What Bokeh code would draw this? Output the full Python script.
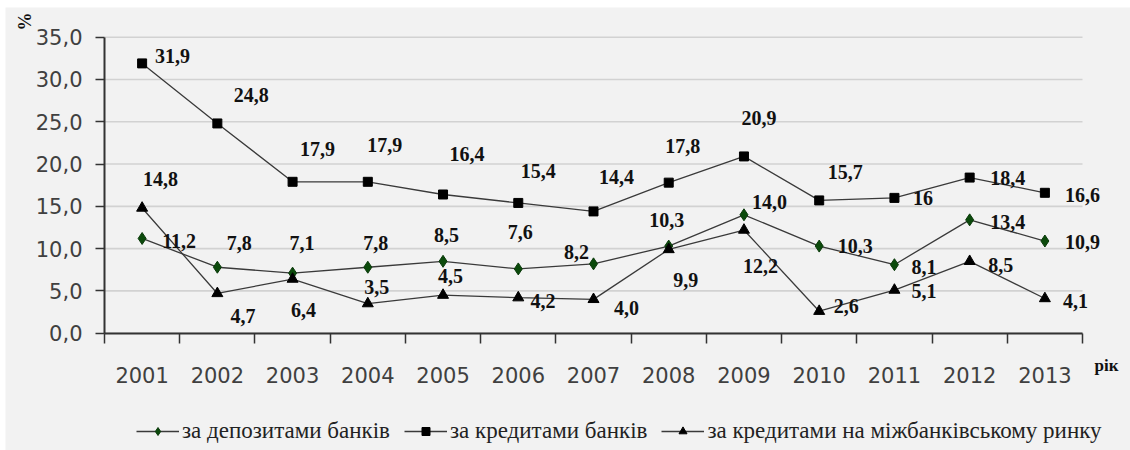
import math
from bokeh.plotting import figure
from bokeh.models import (ColumnDataSource, Range1d, FixedTicker, LabelSet, Label,
                          Legend, LegendItem, LinearAxis)
from bokeh.embed import file_html
from bokeh.resources import INLINE

# ---------------- data ----------------
years = ["2001", "2002", "2003", "2004", "2005", "2006", "2007",
         "2008", "2009", "2010", "2011", "2012", "2013"]
deposits = [11.2, 7.8, 7.1, 7.8, 8.5, 7.6, 8.2, 10.3, 14.0, 10.3, 8.1, 13.4, 10.9]
credits = [31.9, 24.8, 17.9, 17.9, 16.4, 15.4, 14.4, 17.8, 20.9, 15.7, 16.0, 18.4, 16.6]
interbank = [14.8, 4.7, 6.4, 3.5, 4.5, 4.2, 4.0, 9.9, 12.2, 2.6, 5.1, 8.5, 4.1]

deposits_labels = ["11,2", "7,8", "7,1", "7,8", "8,5", "7,6", "8,2", "10,3", "14,0", "10,3", "8,1", "13,4", "10,9"]
credits_labels = ["31,9", "24,8", "17,9", "17,9", "16,4", "15,4", "14,4", "17,8", "20,9", "15,7", "16", "18,4", "16,6"]
interbank_labels = ["14,8", "4,7", "6,4", "3,5", "4,5", "4,2", "4,0", "9,9", "12,2", "2,6", "5,1", "8,5", "4,1"]

series_names = ["за депозитами банків", "за кредитами банків",
                "за кредитами на міжбанківському ринку"]
y_ticks = [0, 5, 10, 15, 20, 25, 30, 35]
y_axis_title = "%"
x_axis_title = "рік"

# ---------------- label placement (pixels, style only) ----------------
dep_dx = [37, 22, 9.5, 8, 3.5, 2, -17, -2, 25.5, 36, 29.5, 38, 37.6]
dep_dy = [-2.5, 24, 30, 24, 26, 37, 12, 25.6, 13, 0, -2, -2, -1]
cre_dx = [30.4, 34, 25, 17, 24, 20, 23, 14, 15, 26, 28.5, 38, 37.6]
cre_dy = [7.9, 28, 33, 37, 40, 32, 34, 37, 38, 28.5, 0, 0, -2]
int_dx = [18.5, 25.7, 11, 9, 7.5, 24.7, 33, 17, 16.5, 27, 29.5, 31, 30.6]
int_dy = [29, -22.5, -31, 16.6, 19, -3, -8.6, -31, -35.5, 5, -1, -3.7, -2]

BG = "#f2f2f2"
LINE = "#3a3a3a"
TICK_FONT = "'DejaVu Sans'"
SERIF = "'Liberation Serif'"

n = len(years)
xs = [i + 0.5 for i in range(n)]

# the frame covers (almost) the whole canvas; axes are pinned at 0 so nothing is clipped
p = figure(width=1130, height=450, output_backend="svg", toolbar_location=None,
           x_range=Range1d(-1.316, 13.638), y_range=Range1d(-13.87, 38.51),
           x_axis_type=None, y_axis_type=None, min_border=0)
p.min_border_left = 5
p.min_border_top = 7
p.min_border_right = 0
p.min_border_bottom = 0
p.background_fill_color = BG
p.border_fill_color = "#ffffff"
p.outline_line_color = None

# horizontal grid lines across the category span
p.segment(x0=[0] * len(y_ticks), x1=[n] * len(y_ticks), y0=y_ticks, y1=y_ticks,
          line_color="#d2d2d2", line_width=1.6)

xaxis = LinearAxis(fixed_location=0, bounds=(0, n),
                   ticker=FixedTicker(ticks=xs, minor_ticks=list(range(n + 1))))
xaxis.major_label_overrides = {x: y for x, y in zip(xs, years)}
xaxis.major_tick_out = 0
xaxis.major_tick_in = 0
xaxis.minor_tick_out = 10
xaxis.minor_tick_in = 0
xaxis.minor_tick_line_color = "#333333"
xaxis.minor_tick_line_width = 1.5
xaxis.major_label_standoff = 24
xaxis.major_label_text_font = TICK_FONT
xaxis.major_label_text_font_size = "21px"
xaxis.major_label_text_color = "#404040"
xaxis.axis_line_color = "#333333"
xaxis.axis_line_width = 2
p.add_layout(xaxis, "below")

yaxis = LinearAxis(fixed_location=0, bounds=(0, 35),
                   ticker=FixedTicker(ticks=y_ticks, minor_ticks=[]))
yaxis.major_label_overrides = {t: f"{t:.1f}".replace(".", ",") for t in y_ticks}
yaxis.major_tick_out = 9
yaxis.major_tick_in = 0
yaxis.major_tick_line_color = "#333333"
yaxis.major_tick_line_width = 1.5
yaxis.major_label_standoff = 13
yaxis.major_label_text_font = TICK_FONT
yaxis.major_label_text_font_size = "21px"
yaxis.major_label_text_color = "#404040"
yaxis.axis_line_color = "#333333"
yaxis.axis_line_width = 2
p.add_layout(yaxis, "left")

specs = [
    (deposits, deposits_labels, dep_dx, dep_dy, "diamond", 12, "#0b4a0b", "#0b3a0b"),
    (credits, credits_labels, cre_dx, cre_dy, "square", 9, "#000000", "#000000"),
    (interbank, interbank_labels, int_dx, int_dy, "triangle", 11, "#000000", "#000000"),
]

items = []
for (vals, labs, dx, dy, marker, size, fill, edge), name in zip(specs, series_names):
    src = ColumnDataSource(dict(x=xs, y=vals, lab=labs, dx=dx, dy=dy))
    lr = p.line("x", "y", source=src, line_color=LINE, line_width=1.3)
    sr = p.scatter("x", "y", source=src, marker=marker, size=size,
                   fill_color=fill, line_color=edge)
    ls = LabelSet(x="x", y="y", text="lab", source=src, x_offset="dx", y_offset="dy",
                  text_align="center", text_baseline="middle",
                  text_font=SERIF, text_font_style="bold",
                  text_font_size="20px", text_color="#111111")
    p.add_layout(ls)
    items.append(LegendItem(label=name, renderers=[lr, sr]))

p.add_layout(Label(x=-1.063, y=36.86, text=y_axis_title, angle=math.pi / 2,
                   text_align="center", text_baseline="middle",
                   text_font=SERIF, text_font_style="bold",
                   text_font_size="18px", text_color="#111111"))
p.add_layout(Label(x=13.32, y=-3.82, text=x_axis_title,
                   text_align="center", text_baseline="middle",
                   text_font=SERIF, text_font_style="bold",
                   text_font_size="17px", text_color="#111111"))

legend = Legend(items=items, orientation="horizontal", location=(131, 6),
                glyph_width=43, glyph_height=20, label_standoff=3, spacing=14,
                padding=0, margin=0, border_line_color=None,
                background_fill_alpha=0,
                label_text_font=SERIF, label_text_font_size="23px",
                label_text_color="#222222")
p.add_layout(legend)

open("out.html", "w").write(file_html(p, INLINE))
